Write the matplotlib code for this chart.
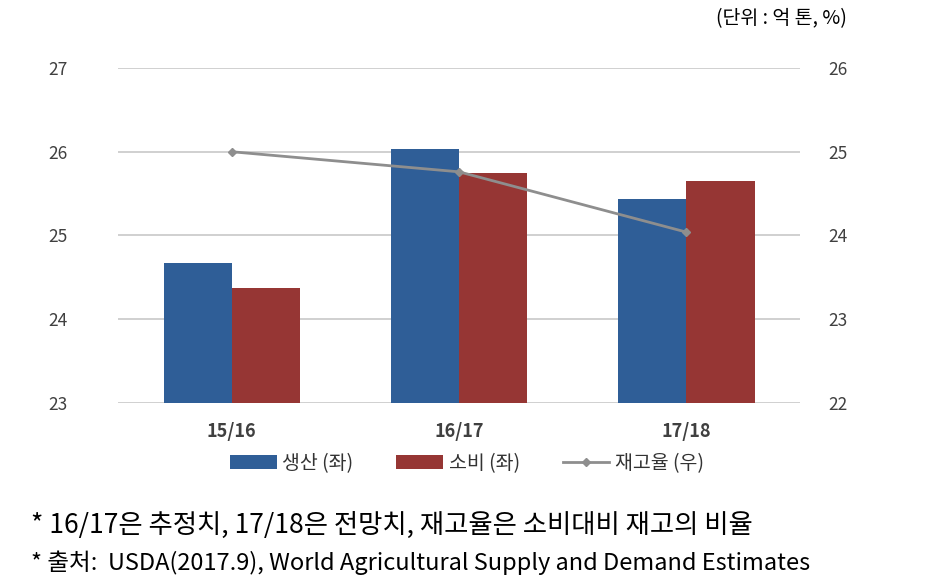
import matplotlib.pyplot as plt
import numpy as np

plt.rcParams['font.family'] = ['Noto Sans CJK KR', 'DejaVu Sans']

years = ['15/16', '16/17', '17/18']
production = [24.67, 26.03, 25.44]
consumption = [24.37, 25.75, 25.65]
stock_ratio = [25.0, 24.76, 24.04]

fig = plt.figure(figsize=(9.25, 5.88), dpi=100)
ax = fig.add_axes([0.1276, 0.3146, 0.7374, 0.5698])
ax2 = ax.twinx()

x = np.arange(len(years))
w = 0.3
b1 = ax.bar(x - w / 2, production, w, color='#2F5E97', label='생산 (좌)', zorder=3)
b2 = ax.bar(x + w / 2, consumption, w, color='#963634', label='소비 (좌)', zorder=3)
ln, = ax2.plot(x, stock_ratio, color='#8E8E8E', lw=2, marker='D', ms=4,
               label='재고율 (우)', zorder=4)

ax.set_xlim(-0.5, 2.5)
ax.set_ylim(23, 27)
ax2.set_ylim(22, 26)
ax.set_yticks(np.arange(23, 28, 1))
ax2.set_yticks(np.arange(22, 27, 1))
ax.grid(axis='y', color='#C8C8C8', lw=1.2, zorder=0)

for a in (ax, ax2):
    for s in a.spines.values():
        s.set_visible(False)
    a.tick_params(length=0, labelsize=12.5, labelcolor='#404040')
ax.tick_params(axis='y', pad=36)
ax2.tick_params(axis='y', pad=20)
ax.set_xticks(x)
ax.set_xticklabels(years, fontsize=13, fontweight='bold')
ax.tick_params(axis='x', pad=14)

fig.legend(handles=[b1, b2, ln], loc='center', bbox_to_anchor=(0.505, 0.212),
           ncol=3, frameon=False, fontsize=14, handlelength=2.4,
           handletextpad=0.3, columnspacing=2.2, labelcolor='#333333')

fig.text(0.915, 0.968, '(단위 : 억 톤, %)', ha='right', va='center', fontsize=14)
fig.text(0.033, 0.107, '* 16/17은 추정치, 17/18은 전망치, 재고율은 소비대비 재고의 비율',
         ha='left', va='center', fontsize=19)
fig.text(0.033, 0.043, '* 출처:  USDA(2017.9), World Agricultural Supply and Demand Estimates',
         ha='left', va='center', fontsize=17)

fig.savefig('out.png', dpi=100)
